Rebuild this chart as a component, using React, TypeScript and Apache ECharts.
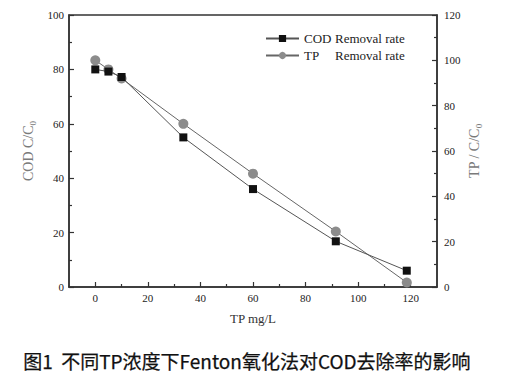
import React, { useEffect, useRef } from "react";
import * as echarts from "echarts";

const tpConc = [0, 5, 10, 33.5, 60, 91.5, 118.5];
const codRemoval = [80, 79.2, 77.2, 55, 36, 16.8, 6];
const tpRemoval = [100, 96, 92, 72, 50, 24.5, 2];
const xMajorTicks = [0, 20, 40, 60, 80, 100, 120];
const xMinorTicks = [10, 30, 50, 70, 90, 110];
const caption = "图1  不同TP浓度下Fenton氧化法对COD去除率的影响";

const SERIF = "Liberation Serif";
const AXIS_COLOR = "#333";
const NAME_COLOR = "#7a7a7a";

export default function App() {
  const ref = useRef<HTMLDivElement>(null);
  useEffect(() => {
    if (!ref.current) return;
    const chart = echarts.init(ref.current, null, { renderer: "svg" });
    const nameRich = {
      n: { fontFamily: SERIF, fontSize: 14, color: NAME_COLOR },
      s: { fontFamily: SERIF, fontSize: 9, color: NAME_COLOR, verticalAlign: "bottom", padding: [8, 0, 0, 0] },
    };
    const legendRich = {
      a: { fontFamily: SERIF, fontSize: 13, color: "#222", width: 31 },
      b: { fontFamily: SERIF, fontSize: 13, color: "#222" },
    };
    chart.setOption({
      animation: false,
      backgroundColor: "#fff",
      grid: {
        left: 69,
        right: 77,
        top: 15,
        bottom: 96,
        show: true,
        borderColor: AXIS_COLOR,
        borderWidth: 1.5,
        backgroundColor: "transparent",
      },
      legend: {
        orient: "vertical",
        left: 260,
        top: 27,
        itemWidth: 33,
        itemHeight: 9,
        itemGap: 4,
        data: ["COD", "TP"],
        formatter: (name: string) =>
          name === "COD" ? "{a|COD}{b|Removal rate}" : "{a|TP}{b|Removal rate}",
        textStyle: { fontFamily: SERIF, fontSize: 13, color: "#222", rich: legendRich },
      },
      xAxis: [
        {
          type: "value",
          min: -10,
          max: 130,
          interval: 10,
          name: "TP mg/L",
          nameLocation: "middle",
          nameGap: 25,
          nameMoveOverlap: false,
          nameTextStyle: { fontFamily: SERIF, fontSize: 13, color: "#333" },
          axisLine: { show: true, onZero: false, lineStyle: { color: AXIS_COLOR, width: 1.5 } },
          axisTick: {
            show: true,
            inside: true,
            length: 5,
            customValues: xMajorTicks,
            lineStyle: { color: AXIS_COLOR, width: 1.2 },
          },
          axisLabel: {
            customValues: xMajorTicks,
            margin: 5,
            fontFamily: SERIF,
            fontSize: 11,
            color: "#222",
          },
          splitLine: { show: false },
        },
        {
          type: "value",
          min: -10,
          max: 130,
          position: "bottom",
          axisLine: { show: false, onZero: false },
          axisTick: {
            show: true,
            inside: true,
            length: 3,
            customValues: xMinorTicks,
            lineStyle: { color: AXIS_COLOR, width: 1.2 },
          },
          axisLabel: { show: false },
          splitLine: { show: false },
        },
      ],
      yAxis: [
        {
          type: "value",
          min: 0,
          max: 100,
          interval: 20,
          position: "left",
          name: "{n|COD C/C}{s|0}",
          nameLocation: "middle",
          nameRotate: 90,
          nameGap: 32,
          nameMoveOverlap: false,
          nameTextStyle: { fontFamily: SERIF, fontSize: 14, color: NAME_COLOR, rich: nameRich },
          axisLine: { show: true, onZero: false, lineStyle: { color: AXIS_COLOR, width: 1.5 } },
          axisTick: { show: true, inside: true, length: 5, lineStyle: { color: AXIS_COLOR, width: 1.2 } },
          minorTick: { show: true, splitNumber: 2, length: 3, lineStyle: { color: AXIS_COLOR, width: 1.2 } },
          axisLabel: { margin: 5, fontFamily: SERIF, fontSize: 11, color: "#222" },
          splitLine: { show: false },
          minorSplitLine: { show: false },
        },
        {
          type: "value",
          min: 0,
          max: 120,
          interval: 20,
          position: "right",
          name: "{n|TP / C/C}{s|0}",
          nameLocation: "middle",
          nameRotate: 90,
          nameGap: 29,
          nameMoveOverlap: false,
          nameTextStyle: { fontFamily: SERIF, fontSize: 14, color: NAME_COLOR, rich: nameRich },
          axisLine: { show: true, onZero: false, lineStyle: { color: AXIS_COLOR, width: 1.5 } },
          axisTick: { show: true, inside: true, length: 5, lineStyle: { color: AXIS_COLOR, width: 1.2 } },
          minorTick: { show: true, splitNumber: 2, length: 3, lineStyle: { color: AXIS_COLOR, width: 1.2 } },
          axisLabel: { margin: 7, fontFamily: SERIF, fontSize: 11, color: "#222" },
          splitLine: { show: false },
          minorSplitLine: { show: false },
        },
      ],
      series: [
        {
          name: "COD",
          type: "line",
          xAxisIndex: 0,
          yAxisIndex: 0,
          data: tpConc.map((x, i) => [x, codRemoval[i]]),
          symbol: "rect",
          symbolSize: 8,
          itemStyle: { color: "#111" },
          lineStyle: { color: "#555", width: 1 },
          z: 3,
        },
        {
          name: "TP",
          type: "line",
          xAxisIndex: 0,
          yAxisIndex: 1,
          data: tpConc.map((x, i) => [x, tpRemoval[i]]),
          symbol: "circle",
          symbolSize: 10,
          itemStyle: { color: "#8c8c8c" },
          lineStyle: { color: "#666", width: 1 },
          z: 2,
        },
      ],
      graphic: [
        {
          type: "text",
          left: 23,
          top: 351,
          style: {
            text: caption,
            fontFamily: "Noto Sans CJK SC",
            fontSize: 19,
            fontWeight: "normal",
            fill: "#111",
            stroke: "#111",
            lineWidth: 0.25,
          },
        },
      ],
    });
    return () => chart.dispose();
  }, []);
  return (
    <div
      ref={ref}
      style={{ position: "fixed", left: 0, top: 0, width: 514, height: 383, background: "#fff" }}
    />
  );
}
